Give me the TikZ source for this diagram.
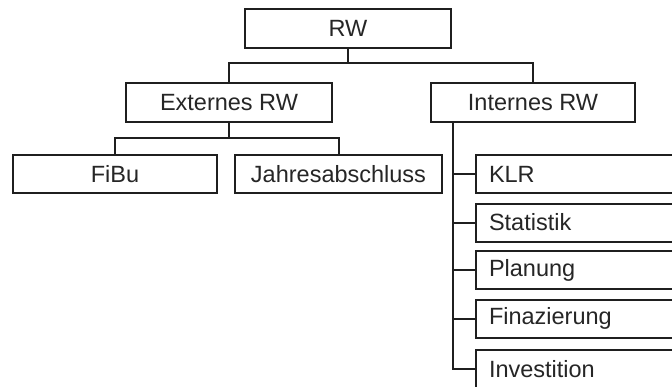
\documentclass[tikz,border=0pt]{standalone}
\usepackage{fontspec}
\setmainfont{Liberation Sans}
\begin{document}
\begin{tikzpicture}[x=1pt,y=-1pt,
  box/.style={draw=black!88, line width=2pt, minimum height=38pt, inner sep=0pt,
    font=\fontsize{23.5}{27}\selectfont, text=black!85},
  sidebox/.style={box, anchor=west, text width=277pt, inner xsep=13pt, align=left, minimum width=303pt},
  link/.style={draw=black!88, line width=2pt}]
\clip (0,0) rectangle (672,386);
\fill[white] (0,0) rectangle (672,386);
\node[box, minimum width=206pt, minimum height=39pt] (rw) at (348,28.5) {RW};
\node[box, minimum width=206pt, minimum height=39pt] (ext) at (229,102.5) {Externes RW};
\node[box, minimum width=204pt, minimum height=39pt] (int) at (533,102.5) {Internes RW};
\node[box, minimum width=204pt] (fibu) at (115,174) {FiBu};
\node[box, minimum width=207pt] (jahr) at (338.5,174) {Jahresabschluss};
\node[sidebox] (klr) at (475,174) {KLR};
\node[sidebox] (stat) at (475,222.5) {Statistik};
\node[sidebox] (plan) at (475,270) {Planung};
\node[sidebox] (fin) at (475,318.5) {Finazierung};
\node[sidebox] (inv) at (475,369) {Investition};
\coordinate (j1) at (348,63);
\coordinate (j2) at (229,138);
\coordinate (sp) at (453,122);
\draw[link] (rw.south) -- (j1);
\draw[link] (ext.north) |- (j1) -| (int.north);
\draw[link] (ext.south) -- (j2);
\draw[link] (fibu.north) |- (j2) -| (jahr.north);
\draw[link, line join=miter] (sp) |- (inv.west);
\foreach \n in {klr,stat,plan,fin} \draw[link] (sp |- \n.west) -- (\n.west);
\end{tikzpicture}
\end{document}
